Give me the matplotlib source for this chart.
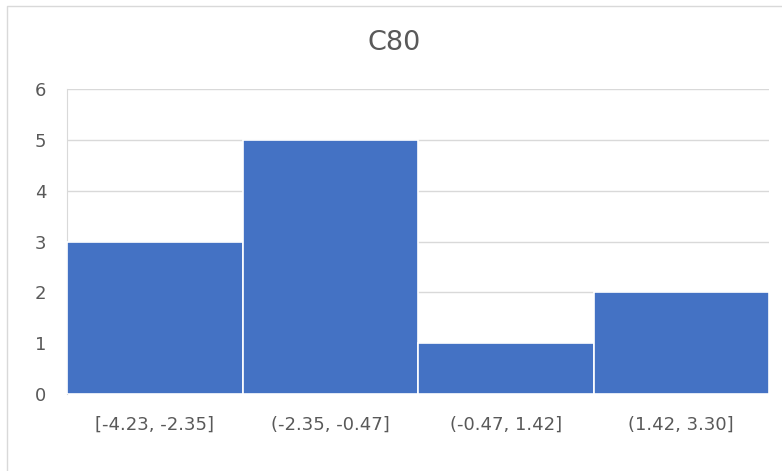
import matplotlib
matplotlib.use("Agg")
import matplotlib.pyplot as plt
from matplotlib.lines import Line2D

bins = ["[-4.23, -2.35]", "(-2.35, -0.47]", "(-0.47, 1.42]", "(1.42, 3.30]"]
counts = [3, 5, 1, 2]
y_ticks = [0, 1, 2, 3, 4, 5, 6]
title = "C80"

W, H = 782, 471
plt.rcParams["font.family"] = ["DejaVu Sans"]
fig = plt.figure(figsize=(W / 100, H / 100), dpi=100)

# chart frame: only the left and top edges fall inside the image
fx, fy = 6.5 / W, 1 - 5.5 / H
fig.lines.append(Line2D([fx, fx, 1.0], [0.0, fy, fy], transform=fig.transFigure,
                        color="#d9d9d9", linewidth=1.0))

left, right, top, bottom = 67, 769, 89, 394
ax = fig.add_axes([left / W, 1 - bottom / H, (right - left) / W, (bottom - top) / H])

x = list(range(len(bins)))
ax.bar(x, counts, width=1.0, color="#4472c4", edgecolor="white", linewidth=1.2, zorder=3)
ax.set_xlim(-0.5, len(bins) - 0.5)
ax.set_ylim(0, 6)
ax.set_yticks(y_ticks)
ax.set_xticks(x)
ax.set_xticklabels(bins)
ax.grid(axis="y", color="#d9d9d9", linewidth=1.0, zorder=0)
for s in ["top", "right", "bottom"]:
    ax.spines[s].set_visible(False)
ax.spines["left"].set_color("#d9d9d9")
ax.tick_params(length=0, colors="#595959", labelsize=13)
ax.tick_params(axis="y", pad=15)
ax.tick_params(axis="x", pad=16)

fig.text(394 / W, 1 - 43 / H, title, ha="center", va="center", fontsize=19.5, color="#595959")

fig.savefig("out.png", dpi=100)
